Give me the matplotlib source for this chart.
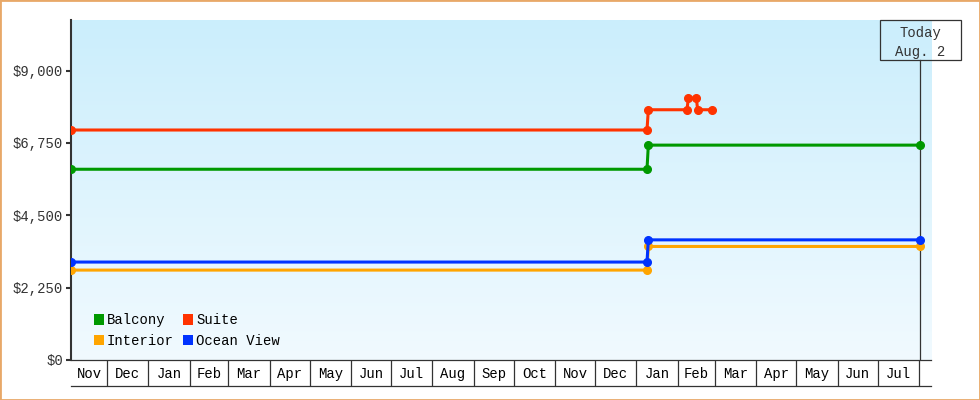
import numpy as np
import pandas as pd
import matplotlib
matplotlib.use("Agg")
import matplotlib.pyplot as plt
import matplotlib.dates as mdates
import matplotlib.ticker as ticker
from matplotlib.patches import Patch, Rectangle
from matplotlib.transforms import blended_transform_factory

# Price history per cabin type
balcony_dates = ["2023-11-04", "2025-01-09", "2025-01-10", "2025-08-02"]
balcony_prices = [5930, 5930, 6680, 6680]

interior_dates = ["2023-11-04", "2025-01-09", "2025-01-10", "2025-08-02"]
interior_prices = [2795, 2795, 3530, 3530]

ocean_dates = ["2023-11-04", "2025-01-09", "2025-01-10", "2025-08-02"]
ocean_prices = [3045, 3045, 3735, 3735]

suite_dates = ["2023-11-04", "2025-01-09", "2025-01-10", "2025-02-08",
               "2025-02-09", "2025-02-15", "2025-02-16", "2025-02-27"]
suite_prices = [7150, 7150, 7780, 7780, 8140, 8140, 7780, 7780]

month_labels = ["Nov", "Dec", "Jan", "Feb", "Mar", "Apr", "May", "Jun", "Jul",
                "Aug", "Sep", "Oct", "Nov", "Dec", "Jan", "Feb", "Mar", "Apr",
                "May", "Jun", "Jul"]
y_ticks = [0, 2250, 4500, 6750, 9000]

today = pd.Timestamp("2025-08-02")
x_start = pd.Timestamp("2023-11-04")
x_end = pd.Timestamp("2025-08-10")
y_max = 10570

FONT = "Liberation Mono"
DARK = "#333333"

series = [
    ("Balcony", balcony_dates, balcony_prices, "#009900"),
    ("Interior", interior_dates, interior_prices, "#FFA500"),
    ("Suite", suite_dates, suite_prices, "#FF3300"),
    ("Ocean View", ocean_dates, ocean_prices, "#0033FF"),
]

fig = plt.figure(figsize=(9.8, 4.0), dpi=100)
ax = fig.add_axes([71 / 980, 0.1, 860 / 980, 0.85])

# gradient background of the plot area
grad = np.linspace(0, 1, 256).reshape(-1, 1)
top_c = np.array([203, 238, 252]) / 255
bot_c = np.array([241, 250, 255]) / 255
img = top_c[None, None, :] * (1 - grad[:, :, None]) + bot_c[None, None, :] * grad[:, :, None]
ax.imshow(img, extent=[0, 1, 0, 1], transform=ax.transAxes, aspect="auto", zorder=0)

for name, d, p, c in series:
    ax.plot(pd.to_datetime(d), p, color=c, linewidth=2.2, marker="o",
            markersize=5.5, zorder=3, solid_joinstyle="round")

ax.set_xlim(x_start, x_end)
ax.set_ylim(0, y_max)

# y axis
ax.set_yticks(y_ticks)
ax.yaxis.set_major_formatter(ticker.FuncFormatter(lambda v, pos: f"${v:,.0f}"))
ax.tick_params(axis="y", length=3.6, width=1.5, color=DARK, labelcolor=DARK,
               labelsize=10, pad=2)
for lbl in ax.get_yticklabels():
    lbl.set_fontfamily(FONT)

# x axis: month cells
month_starts = pd.date_range("2023-11-01", periods=len(month_labels) + 1, freq="MS")
bounds = [m for m in month_starts if x_start < m < x_end]
centers = []
for i, lab in enumerate(month_labels):
    a = max(month_starts[i], x_start)
    b = min(month_starts[i + 1], x_end)
    centers.append(a + (b - a) / 2)
ax.set_xticks(centers)
ax.set_xticklabels(month_labels, fontfamily=FONT, fontsize=10, color="black")
ax.set_xticks(bounds, minor=True)
ax.tick_params(axis="x", which="major", length=0, pad=5)
ax.tick_params(axis="x", which="minor", length=18.7, width=0.9, color=DARK, direction="out")
ax.plot([0, 1], [-26 / 340] * 2, transform=ax.transAxes, color=DARK,
        linewidth=0.9, clip_on=False)

for side in ["top", "right"]:
    ax.spines[side].set_visible(False)
ax.spines["left"].set_linewidth(1.5)
ax.spines["left"].set_color(DARK)
ax.spines["bottom"].set_linewidth(0.9)
ax.spines["bottom"].set_color(DARK)

# today marker
box_bottom = 300 / 340
ax.axvline(today, ymin=0, ymax=box_bottom, color=DARK, linewidth=0.9, zorder=2)
bt = blended_transform_factory(ax.transData, ax.transAxes)
box_w = pd.Timedelta(days=61)
ax.add_patch(Rectangle((mdates.date2num(today - box_w / 2), box_bottom),
                       box_w.days, 1 - box_bottom, transform=bt, fill=False,
                       edgecolor=DARK, linewidth=0.9, clip_on=False, zorder=4))
ax.text(today, (1 + box_bottom) / 2 - 0.007, "Today\nAug. 2", transform=bt, ha="center",
        va="center", fontfamily=FONT, fontsize=10, color=DARK, linespacing=1.45)

# legend
handles = [Patch(facecolor=c, edgecolor="none", label=n) for n, _, _, c in series]
ax.legend(handles=handles, ncol=2, loc="lower left", bbox_to_anchor=(0.015, 0.006),
          frameon=False, prop={"family": FONT, "size": 10}, handlelength=0.75,
          handleheight=0.75, handletextpad=0.2, columnspacing=0.65, labelspacing=0.5,
          borderpad=0.2)

fig.add_artist(Rectangle((0, 0), 1, 1, transform=fig.transFigure, fill=False,
                         edgecolor="#E8A868", linewidth=2))

fig.savefig("out.png", dpi=100)
